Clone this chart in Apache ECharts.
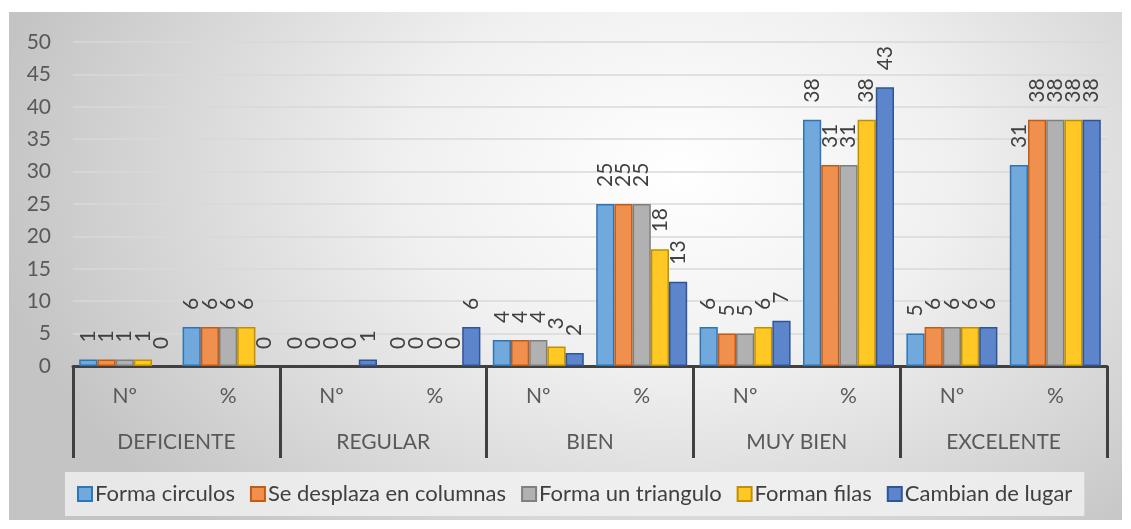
<!DOCTYPE html>
<html>
<head>
<meta charset="utf-8">
<script src="https://cdn.jsdelivr.net/npm/echarts@6/dist/echarts.min.js"></script>
<style>
  html, body { margin: 0; padding: 0; background: #ffffff; }
  .chart-bg {
    position: absolute; left: 9px; top: 12px; width: 1113px; height: 508px;
    background: radial-gradient(ellipse 62% 95% at 60% 32%, #ffffff 0%, #f0f0f0 40%, #c4c4c4 100%);
  }
  #main { position: absolute; left: 0; top: 0; width: 1131px; height: 529px; }
</style>
</head>
<body>
<div class="chart-bg"></div>
<div id="main"></div>
<script>
// categorias (nivel 1 y nivel 2)
var subCats = ['Nº', '%', 'Nº', '%', 'Nº', '%', 'Nº', '%', 'Nº', '%'];
var groups = ['DEFICIENTE', 'REGULAR', 'BIEN', 'MUY BIEN', 'EXCELENTE'];
var yTicks = [0, 50, 5]; // min, max, intervalo

var formaCirculos   = [1, 6, 0, 0, 4, 25, 6, 38, 5, 31];
var seDesplaza      = [1, 6, 0, 0, 4, 25, 5, 31, 6, 38];
var formaTriangulo  = [1, 6, 0, 0, 4, 25, 5, 31, 6, 38];
var formanFilas     = [1, 6, 0, 0, 3, 18, 6, 38, 6, 38];
var cambianLugar    = [0, 0, 1, 6, 2, 13, 7, 43, 6, 38];

var seriesNames = ['Forma circulos', 'Se desplaza en columnas', 'Forma un triangulo', 'Forman filas', 'Cambian de lugar'];
var seriesData = [formaCirculos, seDesplaza, formaTriangulo, formanFilas, cambianLugar];
var fills   = ['#71A9DC', '#F0904F', '#B1B1B1', '#FFC825', '#5D85CC'];
var borders = ['#2E75B6', '#C55A11', '#7F7F7F', '#BF9000', '#2F5597'];

var font = 'Lato';
var myChart = echarts.init(document.getElementById('main'));

var series = seriesNames.map(function (name, i) {
  return {
    name: name,
    type: 'bar',
    // barras en cero sin borde, como en Excel
    data: seriesData[i].map(function (v) {
      return v === 0 ? { value: 0, itemStyle: { borderWidth: 0 } } : v;
    }),
    barGap: '0%',
    barCategoryGap: '12%',
    itemStyle: { color: fills[i], borderColor: borders[i], borderWidth: 1.5 },
    label: {
      show: true,
      position: 'top',
      distance: 17,
      rotate: 90,
      align: 'left',
      verticalAlign: 'middle',
      color: '#404040',
      fontFamily: font,
      fontSize: 21
    }
  };
});

var option = {
  animation: false,
  legend: {
    left: 65,
    top: 472,
    padding: [11, 12, 11, 12],
    backgroundColor: 'rgba(244,244,244,0.75)',
    itemWidth: 14,
    itemHeight: 14,
    itemGap: 15,
    icon: 'rect',
    textStyle: { color: '#404040', fontFamily: font, fontSize: 22, padding: [0, 0, 0, -2] },
    data: seriesNames
  },
  grid: { left: 73, right: 24, top: 42, bottom: 163 },
  xAxis: [
    {
      type: 'category',
      data: subCats,
      axisLine: { show: true, lineStyle: { color: '#404040', width: 3 } },
      axisTick: { show: false },
      axisLabel: { color: '#595959', fontFamily: font, fontSize: 21, margin: 20 }
    },
    {
      type: 'category',
      data: groups,
      position: 'bottom',
      axisLine: { show: false },
      axisTick: { show: true, length: 92, lineStyle: { color: '#404040', width: 3 } },
      axisLabel: { color: '#595959', fontFamily: font, fontSize: 21, margin: 66 }
    }
  ],
  yAxis: {
    type: 'value',
    min: yTicks[0],
    max: yTicks[1],
    interval: yTicks[2],
    axisLine: { show: false },
    axisTick: { show: false },
    axisLabel: { color: '#595959', fontFamily: font, fontSize: 21, margin: 22 },
    splitLine: { lineStyle: { color: '#D8D8D8', width: 1.5 } }
  },
  series: series
};
myChart.setOption(option);
</script>
</body>
</html>
